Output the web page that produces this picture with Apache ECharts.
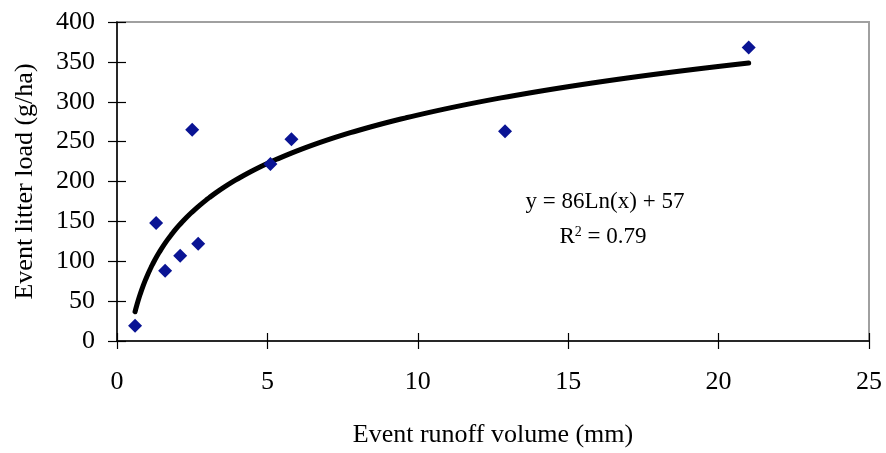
<!DOCTYPE html>
<html>
<head>
<meta charset="utf-8">
<script src="https://cdn.jsdelivr.net/npm/echarts@6/dist/echarts.min.js"></script>
<style>html,body{margin:0;padding:0;background:#fff}#c{width:886px;height:453px}</style>
</head>
<body>
<div id="c"></div>
<script>
// Data
var runoffMm = [0.6, 1.3, 1.6, 2.1, 2.5, 2.7, 5.1, 5.8, 12.9, 21.0];
var litterLoad = [19, 148, 88, 107, 265, 122, 222, 253, 263, 368];
var xTicks = [0, 5, 10, 15, 20, 25];
var yTicks = [0, 50, 100, 150, 200, 250, 300, 350, 400];
var equationText = 'y = 86Ln(x) + 57';
var r2Value = '0.79';

// Logarithmic trendline: least-squares fit of litterLoad on ln(runoffMm), as the spreadsheet trendline
var n = runoffMm.length, sl = 0, sy = 0;
for (var i = 0; i < n; i++) { sl += Math.log(runoffMm[i]); sy += litterLoad[i]; }
var ml = sl / n, my = sy / n, sxy = 0, sxx = 0;
for (i = 0; i < n; i++) { var d = Math.log(runoffMm[i]) - ml; sxy += d * (litterLoad[i] - my); sxx += d * d; }
var slope = sxy / sxx, icpt = my - slope * ml;
var xMin = Math.min.apply(null, runoffMm), xMax = Math.max.apply(null, runoffMm);
var trend = [];
for (i = 0; i <= 200; i++) {
  var xv = xMin * Math.pow(xMax / xMin, i / 200);
  trend.push([xv, icpt + slope * Math.log(xv)]);
}

var pts = runoffMm.map(function (x, k) { return [x, litterLoad[k]]; });
var font = 'Liberation Serif';

var chart = echarts.init(document.getElementById('c'), null, { renderer: 'canvas' });
chart.setOption({
  backgroundColor: '#ffffff',
  animation: false,
  grid: { left: 117, right: 17, top: 22, bottom: 109, show: true, borderColor: '#a0a0a0', borderWidth: 2, backgroundColor: 'transparent' },
  xAxis: [{
    type: 'value', min: xTicks[0], max: xTicks[xTicks.length - 1], interval: 5,
    name: 'Event runoff volume (mm)', nameLocation: 'middle', nameGap: 81,
    nameTextStyle: { fontFamily: font, fontSize: 26, color: '#000' },
    axisLine: { show: true, lineStyle: { color: '#000', width: 1.5 } },
    axisTick: { show: true, inside: false, length: 8, lineStyle: { color: '#000', width: 1.2 } },
    axisLabel: { fontFamily: font, fontSize: 26, color: '#000', margin: 28 },
    splitLine: { show: false }
  }, {
    type: 'value', min: xTicks[0], max: xTicks[xTicks.length - 1], interval: 5, position: 'bottom',
    axisLine: { show: false },
    axisTick: { show: true, inside: true, length: 8, lineStyle: { color: '#000', width: 1.2 } },
    axisLabel: { show: false }, splitLine: { show: false }
  }],
  yAxis: [{
    type: 'value', min: yTicks[0], max: yTicks[yTicks.length - 1], interval: 50,
    name: 'Event litter load (g/ha)', nameLocation: 'middle', nameGap: 79,
    nameTextStyle: { fontFamily: font, fontSize: 26, color: '#000' },
    axisLine: { show: true, lineStyle: { color: '#000', width: 1.5 } },
    axisTick: { show: true, inside: false, length: 9, lineStyle: { color: '#000', width: 1.2 } },
    axisLabel: { fontFamily: font, fontSize: 26, color: '#000', margin: 22 },
    splitLine: { show: false }
  }, {
    type: 'value', min: yTicks[0], max: yTicks[yTicks.length - 1], interval: 50, position: 'left',
    axisLine: { show: false },
    axisTick: { show: true, inside: true, length: 9, lineStyle: { color: '#000', width: 1.2 } },
    axisLabel: { show: false }, splitLine: { show: false }
  }],
  series: [{
    type: 'line', data: trend, xAxisIndex: 0, yAxisIndex: 0, showSymbol: false, symbol: 'none',
    lineStyle: { color: '#000', width: 5, cap: 'round' }, z: 2, silent: true
  }, {
    type: 'scatter', data: pts, xAxisIndex: 0, yAxisIndex: 0, symbol: 'diamond', symbolSize: [14, 14],
    itemStyle: { color: '#0a1494', opacity: 1 }, z: 3
  }],
  graphic: [{
    type: 'text', x: 605, y: 202,
    style: { text: equationText, fontFamily: font, fontSize: 23, fill: '#000', align: 'center', verticalAlign: 'middle' }
  }, {
    type: 'text', x: 603, y: 237,
    style: {
      text: '{b|R}{s|2}{b| = ' + r2Value + '}', align: 'center', verticalAlign: 'middle',
      rich: {
        b: { fontFamily: font, fontSize: 23, color: '#000' },
        s: { fontFamily: font, fontSize: 14, color: '#000', verticalAlign: 'top', padding: [0, 0, 10, 0] }
      }
    }
  }]
});
</script>
</body>
</html>
